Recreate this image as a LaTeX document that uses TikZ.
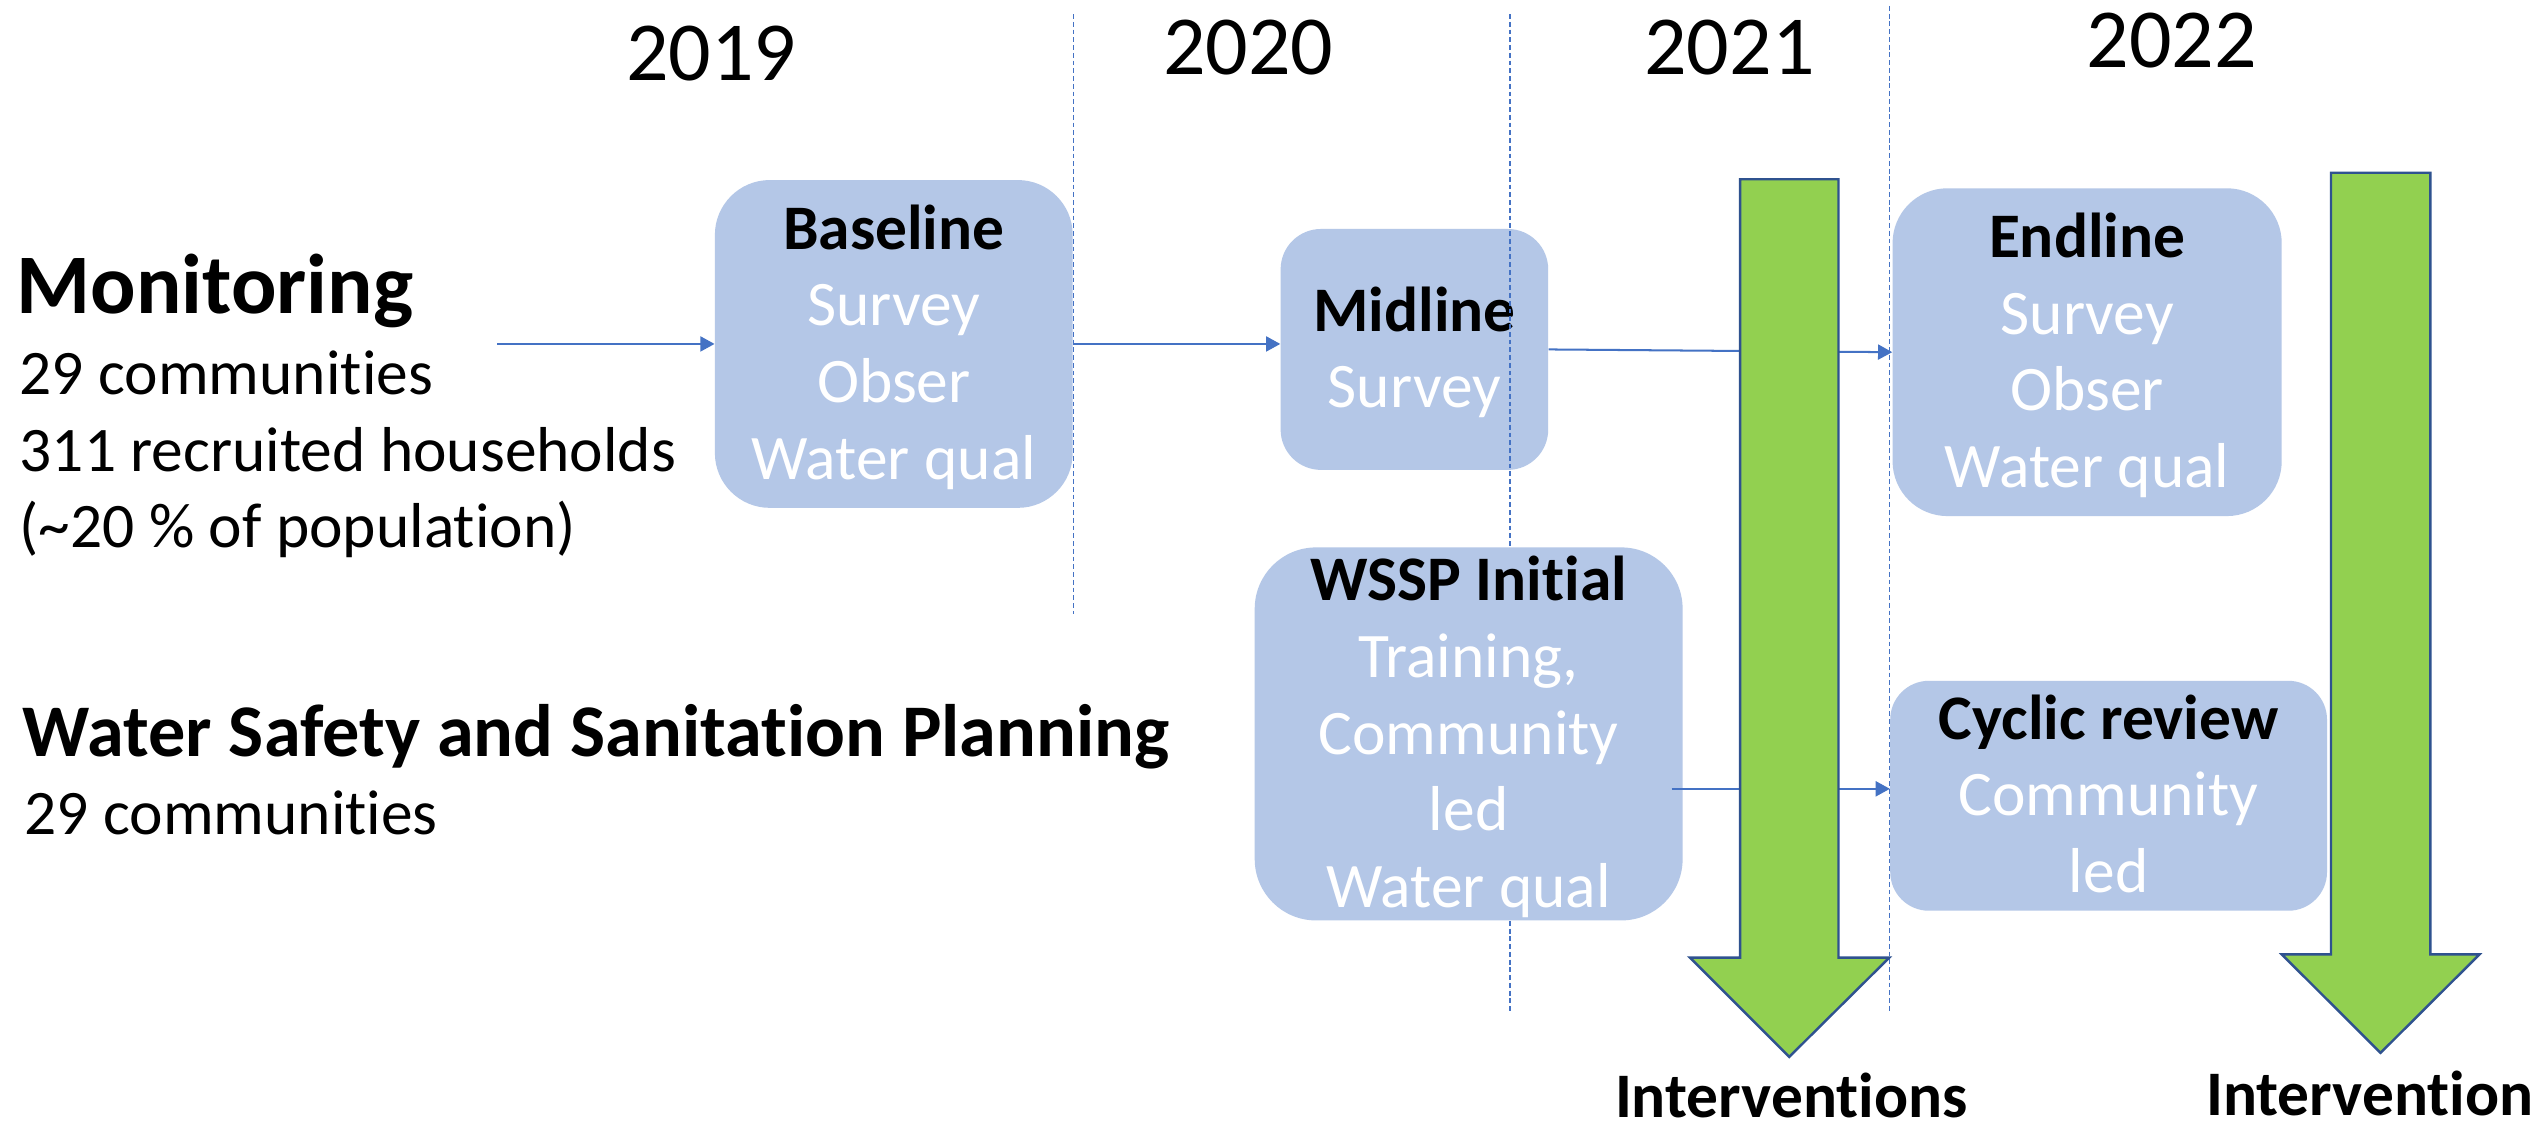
\documentclass[tikz,border=0pt]{standalone}
\usepackage{fontspec}
\setmainfont{Carlito}[Ligatures=NoCommon]
\usetikzlibrary{arrows.meta}
\definecolor{boxblue}{HTML}{B4C7E7}
\definecolor{linkblue}{HTML}{4472C4}
\definecolor{arrowgreen}{HTML}{92D050}
\definecolor{arrowedge}{HTML}{2F528F}
\newcommand\yearfs{\fontsize{52}{60}\selectfont}
\newcommand\headfs{\fontsize{52.5}{60}\selectfont\bfseries}
\newcommand\bodyfs{\fontsize{39.3}{47.5}\selectfont}
\newcommand\wsspfs{\fontsize{46}{54}\selectfont\bfseries}
% struts that fix the text block's extent so the lines centre on their capitals
\newcommand\firststrut{\rule{0pt}{32pt}}
\newcommand\laststrut{\rule[-7pt]{0pt}{7pt}}
\newcommand\stagetitle[1]{\firststrut\textcolor{black}{\bfseries #1}}

\begin{document}
\begin{tikzpicture}[x=1pt,y=-1pt,
  stage/.style={fill=boxblue, draw=none, inner sep=0pt, align=center,
    text=white, font=\bodyfs},
  link/.style={draw=linkblue, line width=1.25pt,
    -{Triangle[length=8.8pt,width=9.3pt]}},
  yearsep/.style={draw=linkblue, line width=0.8pt, dash pattern=on 3pt off 1.8pt},
  bigarrow/.style={fill=arrowgreen, draw=arrowedge, line width=1.5pt, line join=miter},
  year/.style={inner sep=0pt, anchor=base, font=\yearfs},
  plain/.style={inner sep=0pt, anchor=base west, font=\bodyfs},
]
\useasboundingbox (0,0) rectangle (1568,700);
\fill[white] (0,0) rectangle (1568,700);

% year headings
\node[year] (y2019) at (440.5,50) {2019};
\node[year] (y2020) at (773,46) {2020};
\node[year] (y2021) at (1071,46) {2021};
\node[year] (y2022) at (1345,41.5) {2022};

% row headings
\node[plain, font=\headfs] (mon) at (10,194) {Monitoring};
\node[plain] (mon1) at (12,244.6) {29 communities};
\node[plain] (mon2) at (12,291.8) {311 recruited households};
\node[plain] (mon3) at (12,339) {(\textasciitilde20 \% of population)};
\node[plain, font=\wsspfs] (wsp) at (14,468.6) {Water Safety and Sanitation Planning};
\node[plain] (wsp1) at (15,517) {29 communities};

% stages
\node[stage, minimum width=221.6pt, minimum height=203pt, rounded corners=34pt]
  (baseline) at (553.5,213)
  {\stagetitle{Baseline}\\Survey\\Obser\\Water qual\laststrut};
\node[stage, minimum width=165.7pt, minimum height=149.2pt, rounded corners=25pt]
  (midline) at (875.9,216.4)
  {\stagetitle{Midline}\\Survey\laststrut};
\node[stage, minimum width=241pt, minimum height=203pt, rounded corners=34pt]
  (endline) at (1292.5,218.1)
  {\stagetitle{Endline}\\Survey\\Obser\\Water qual\laststrut};
\node[stage, minimum width=270.5pt, minimum height=142.4pt, rounded corners=24pt]
  (cyclic) at (1305.8,492.8)
  {\stagetitle{Cyclic review}\\Community\\led\laststrut};

% year separators
\draw[yearsep] (664.6,8.7) -- (664.6,380);
\draw[yearsep] (935,8.7) -- (935,627);
\draw[yearsep] (1170,3.7) -- (1170,626);

\node[stage, minimum width=265pt, minimum height=231pt, rounded corners=38pt]
  (wssp) at (909.5,454.5)
  {\stagetitle{WSSP Initial}\\Training,\\Community\\led\\Water qual\laststrut};

% connectors
\coordinate (monstart) at (308,213);
\draw[link] (monstart) -- (monstart -| baseline.west);
\draw[link] (baseline.east) -- (baseline.east -| midline.west);
\draw[link] (midline.east) -- (endline.west);
\coordinate (wsspout) at ([xshift=-7pt,yshift=-34pt]wssp.east);
\draw[link] (wsspout) -- (wsspout -| cyclic.west);

% intervention arrows
\draw[bigarrow] (1077.6,111) -- (1138.5,111) -- (1138.5,593) -- (1170,593)
  -- (1108,654.5) -- (1046.5,593) -- (1077.6,593) -- cycle;
\draw[bigarrow] (1443.5,107) -- (1505,107) -- (1505,591) -- (1535.5,591)
  -- (1474.2,652) -- (1413,591) -- (1443.5,591) -- cycle;
\node[inner sep=0pt, anchor=base, font=\bodyfs\bfseries] (int1) at (1109.3,692) {Interventions};
\node[inner sep=0pt, anchor=base west, font=\bodyfs\bfseries] (int2) at (1366,691) {Intervention};
\end{tikzpicture}
\end{document}
